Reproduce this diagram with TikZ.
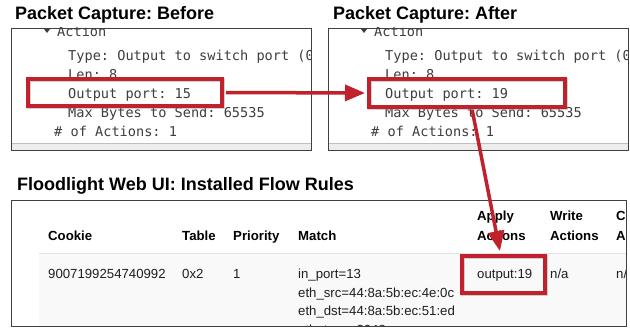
\documentclass[tikz,border=0pt]{standalone}
\usepackage{fontspec}
\setmainfont{Liberation Sans}
\setmonofont{DejaVu Sans Mono}
\usetikzlibrary{arrows.meta,shadows,positioning}
\definecolor{flagred}{RGB}{193,32,45}
\definecolor{codegray}{RGB}{62,62,62}
\definecolor{rowgray}{RGB}{249,249,249}
\definecolor{linegray}{RGB}{226,226,226}
\frenchspacing

\begin{document}
\begin{tikzpicture}[x=1pt,y=-1pt,
    title/.style={anchor=base west,inner sep=0pt,font=\bfseries\fontsize{18}{20}\selectfont},
    mono/.style={anchor=base west,inner sep=0pt,text=codegray,font=\ttfamily\fontsize{13.6}{15}\selectfont},
    cell/.style={anchor=base west,inner sep=0pt,text=black!88,font=\fontsize{13.2}{15}\selectfont},
    hdr/.style={cell,text=black,font=\bfseries\fontsize{13.2}{15}\selectfont},
    redbox/.style={draw=flagred,line width=4pt,inner sep=0pt,
        general shadow={draw=black!45,line width=4pt,shadow xshift=1pt,shadow yshift=-1.5pt,opacity=0.4}},
    pointer/.style={draw=flagred,line width=3.5pt,-{Triangle[length=20pt,width=16pt]}}]
    \useasboundingbox[fill=white] (0,0) rectangle (630,331);

    % packet capture panels
    \node[title] (t_before) at (15,20) {Packet Capture: Before};
    \node[title] (t_after) at (333,20) {Packet Capture: After};
    \foreach \dx/\port/\nm in {0/15/b,317/19/a} {
        \begin{scope}[xshift=\dx]
            \clip (11,28) rectangle (311,150);
            \fill[black!7] (11,143) rectangle (311,150);
            \draw[black!25] (11,143) -- (311,143);
            \fill[codegray] (44,29) -- (50,29) -- (47,33) -- cycle;
            \node[mono] (\nm_act) at (57,37) {Action};
            \node[mono] (\nm_type) at (68,60.5) {Type: Output to switch port (0x};
            \node[mono] (\nm_len) at (68,79.5) {Len: 8};
            \node[mono] (\nm_port) at (68,98.5) {Output port: \port};
            \node[mono] (\nm_max) at (68,117.5) {Max Bytes to Send: 65535};
            \node[mono] (\nm_num) at (54,136.5) {\# of Actions: 1};
        \end{scope}
        \draw[black!75,xshift=\dx] (11,28) rectangle (311,150);
    }

    % flow table
    \node[title] (t_flow) at (17,191) {Floodlight Web UI: Installed Flow Rules};
    \begin{scope}
        \clip (11,201) rectangle (626,327);
        \fill[rowgray] (39,253) rectangle (626,327);
        \draw[linegray] (39,253) -- (626,253);
        \node[hdr] (h_cookie) at (48,241) {Cookie};
        \node[hdr] (h_table) at (182,241) {Table};
        \node[hdr] (h_prio) at (233,241) {Priority};
        \node[hdr] (h_match) at (298,241) {Match};
        \node[hdr,align=left] (h_apply) at (477,241) {Apply\\[5pt]Actions};
        \node[hdr,align=left] (h_write) at (550,241) {Write\\[5pt]Actions};
        \node[hdr,align=left] (h_clear) at (616,241) {Cl\\[5pt]Ac};
        \node[cell] (c_cookie) at (48,279) {9007199254740992};
        \node[cell] (c_table) at (182,279) {0x2};
        \node[cell] (c_prio) at (233,279) {1};
        \node[cell] (c_m1) at (298,279) {in\_port=13};
        \node[cell] (c_m2) at (298,297.5) {eth\_src=44:8a:5b:ec:4e:0c};
        \node[cell] (c_m3) at (298,316) {eth\_dst=44:8a:5b:ec:51:ed};
        \node[cell] (c_m4) at (298,334.5) {eth\_type=2048};
        \node[cell] (c_apply) at (477,279) {output:19};
        \node[cell] (c_write) at (550,279) {n/a};
        \node[cell] (c_clear) at (616,279) {n/};
    \end{scope}
    \draw[black!75,line width=1pt] (11,201) rectangle (626,327);

    % highlights
    \node[redbox,minimum width=194pt,minimum height=27pt] (before) at (125,92.5) {};
    \node[redbox,minimum width=196pt,minimum height=28pt] (after) at (467,93) {};
    \node[redbox,minimum width=83pt,minimum height=37pt] (apply) at (503.5,274.5) {};
    \draw[pointer,shorten <=2pt,shorten >=2pt] (before.east) -- (after.west);
    \draw[pointer,shorten <=1pt,shorten >=3pt] ([xshift=5pt]after.south) -- ([xshift=-3pt]apply.north);
\end{tikzpicture}
\end{document}
